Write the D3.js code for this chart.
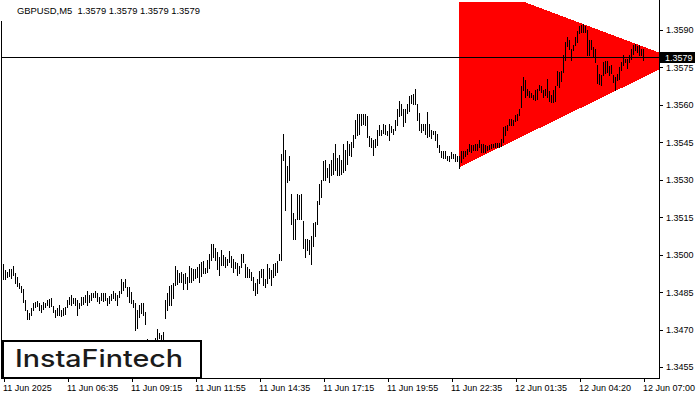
<!DOCTYPE html>
<html><head><meta charset="utf-8">
<script src="https://cdn.jsdelivr.net/npm/d3@7/dist/d3.min.js"></script>
<style>body{margin:0;background:#fff}svg{display:block}</style>
</head><body><svg id="c" width="700" height="400"></svg>
<script>
// ---- data ----
const symbolTitle = "GBPUSD,M5";
const headerPrices = [1.3579, 1.3579, 1.3579, 1.3579];
const lastPrice = 1.3579;
const highs = [
1.34962,1.34938,1.34931,1.34941,1.34941,1.34954,1.34925,1.34911,1.34885,1.34874,
1.34861,1.34818,1.34778,1.34765,1.34785,1.34805,1.34811,1.34814,1.34805,1.34798,
1.34811,1.34805,1.34818,1.34822,1.34825,1.34794,1.34778,1.34785,1.34798,1.34778,
1.34785,1.34791,1.34818,1.34829,1.34838,1.34825,1.34825,1.34818,1.34805,1.34831,
1.34831,1.34838,1.34855,1.34838,1.34845,1.34847,1.34855,1.34845,1.34831,1.34845,
1.34845,1.34845,1.34825,1.34834,1.34842,1.34855,1.34845,1.34838,1.34855,1.34901,
1.34891,1.34901,1.34871,1.34871,1.34851,1.34818,1.34805,1.34778,1.34798,1.34807,
1.34805,1.34771,1.34661,1.34645,1.34628,1.34628,1.34668,1.34701,1.34688,1.34677,
1.34691,1.34818,1.34846,1.34874,1.34878,1.34885,1.34954,1.34938,1.34925,1.34931,
1.34922,1.34925,1.34911,1.34954,1.34945,1.34941,1.34941,1.34951,1.34962,1.34971,
1.34975,1.34945,1.34978,1.35002,1.35042,1.35042,1.35025,1.35011,1.34989,1.35018,
1.34998,1.34991,1.34981,1.35015,1.34994,1.34981,1.34971,1.34965,1.34954,1.35002,
1.35002,1.34962,1.34951,1.34941,1.34931,1.34911,1.34885,1.34901,1.34935,1.34942,
1.34941,1.34901,1.34962,1.34945,1.34938,1.34962,1.34965,1.34975,1.35001,1.35405,
1.35482,1.35421,1.35355,1.35394,1.35245,1.35165,1.35141,1.35245,1.35241,1.35245,
1.35135,1.35064,1.35064,1.35059,1.35075,1.35128,1.35131,1.35215,1.35285,1.35298,
1.35375,1.35378,1.35349,1.35365,1.35381,1.35407,1.35445,1.35389,1.35398,1.35381,
1.35442,1.35418,1.35455,1.35442,1.35451,1.35478,1.35541,1.35562,1.35562,1.35562,
1.35562,1.35562,1.35554,1.35474,1.35469,1.35461,1.35465,1.35501,1.35518,1.35501,
1.35525,1.35518,1.35495,1.35522,1.35514,1.35505,1.35538,1.35585,1.35615,1.35602,
1.35585,1.35585,1.35605,1.35634,1.35638,1.35642,1.35665,1.35602,1.35567,1.35525,
1.35525,1.35522,1.35571,1.35525,1.35501,1.35495,1.35495,1.35482,1.35438,1.35415,
1.35415,1.35415,1.35394,1.35394,1.35411,1.35402,1.35402,1.35394,1.35394,1.35415,
1.35415,1.35415,1.35425,1.35442,1.35438,1.35438,1.35442,1.35445,1.35461,1.35442,
1.35442,1.35438,1.35434,1.35438,1.35442,1.35442,1.35447,1.35447,1.35447,1.35462,
1.35511,1.35515,1.35521,1.35542,1.35542,1.35538,1.35561,1.35565,1.35582,1.35675,
1.35711,1.35698,1.35662,1.35654,1.35649,1.35641,1.35658,1.35662,1.35681,1.35675,
1.35658,1.35662,1.35702,1.35654,1.35638,1.35658,1.35675,1.35734,1.35731,1.35734,
1.35801,1.35851,1.35871,1.35858,1.35825,1.35841,1.35871,1.35894,1.35918,1.35921,
1.35925,1.35915,1.35898,1.35858,1.35858,1.35831,1.35822,1.35761,1.35725,1.35718,
1.35771,1.35774,1.35774,1.35755,1.35761,1.35721,1.35711,1.35725,1.35751,1.35771,
1.35801,1.35785,1.35785,1.35801,1.35825,1.35841,1.35845,1.35835,1.35841,1.35825,
1.35825];
const lows = [
1.34901,1.34902,1.34909,1.34914,1.34907,1.34918,1.34887,1.34874,1.34865,1.34851,
1.34811,1.34778,1.34741,1.34741,1.34758,1.34778,1.34791,1.34794,1.34778,1.34771,
1.34781,1.34791,1.34798,1.34791,1.34794,1.34771,1.34751,1.34758,1.34758,1.34754,
1.34758,1.34762,1.34791,1.34802,1.34798,1.34805,1.34798,1.34758,1.34785,1.34798,
1.34802,1.34811,1.34798,1.34811,1.34818,1.34831,1.34831,1.34815,1.34805,1.34818,
1.34815,1.34818,1.34798,1.34805,1.34818,1.34825,1.34818,1.34798,1.34831,1.34845,
1.34858,1.34869,1.34834,1.34811,1.34805,1.34791,1.34698,1.34705,1.34749,1.34765,
1.34758,1.34722,1.34595,1.34583,1.34581,1.34585,1.34608,1.34659,1.34668,1.34648,
1.34659,1.34746,1.34778,1.34798,1.34798,1.34825,1.34878,1.34882,1.34891,1.34891,
1.34861,1.34885,1.34861,1.34891,1.34891,1.34898,1.34905,1.34911,1.34891,1.34914,
1.34927,1.34925,1.34931,1.34945,1.34978,1.34991,1.34978,1.34941,1.34918,1.34958,
1.34958,1.34951,1.34958,1.34971,1.34951,1.34931,1.34945,1.34918,1.34925,1.34951,
1.34971,1.34911,1.34911,1.34911,1.34898,1.34858,1.34838,1.34845,1.34885,1.34911,
1.34878,1.34871,1.34885,1.34905,1.34878,1.34911,1.34918,1.34931,1.34978,1.34978,
1.35381,1.35178,1.35291,1.35298,1.35121,1.35061,1.35061,1.35141,1.35141,1.35141,
1.35028,1.34992,1.35019,1.35001,1.34961,1.35035,1.35075,1.35121,1.35201,1.35231,
1.35298,1.35301,1.35311,1.35291,1.35318,1.35325,1.35341,1.35318,1.35318,1.35325,
1.35331,1.35338,1.35365,1.35398,1.35394,1.35431,1.35469,1.35478,1.35482,1.35518,
1.35522,1.35518,1.35471,1.35434,1.35431,1.35398,1.35431,1.35438,1.35478,1.35478,
1.35487,1.35485,1.35478,1.35461,1.35491,1.35485,1.35498,1.35518,1.35554,1.35558,
1.35514,1.35531,1.35567,1.35575,1.35607,1.35602,1.35602,1.35538,1.35501,1.35491,
1.35498,1.35482,1.35471,1.35474,1.35469,1.35482,1.35458,1.35431,1.35411,1.35391,
1.35389,1.35389,1.35378,1.35375,1.35389,1.35389,1.35374,1.35374,1.35349,1.35371,
1.35389,1.35394,1.35402,1.35415,1.35411,1.35418,1.35418,1.35421,1.35431,1.35411,
1.35411,1.35411,1.35418,1.35422,1.35426,1.35430,1.35430,1.35430,1.35430,1.35434,
1.35451,1.35478,1.35498,1.35518,1.35521,1.35518,1.35534,1.35538,1.35558,1.35591,
1.35658,1.35631,1.35638,1.35631,1.35631,1.35625,1.35618,1.35625,1.35658,1.35651,
1.35631,1.35638,1.35631,1.35614,1.35611,1.35611,1.35614,1.35678,1.35671,1.35694,
1.35731,1.35778,1.35835,1.35822,1.35778,1.35818,1.35838,1.35851,1.35889,1.35891,
1.35891,1.35891,1.35801,1.35801,1.35825,1.35791,1.35771,1.35689,1.35685,1.35678,
1.35718,1.35729,1.35731,1.35718,1.35729,1.35691,1.35658,1.35698,1.35705,1.35738,
1.35758,1.35771,1.35747,1.35771,1.35782,1.35805,1.35818,1.35811,1.35801,1.35801,
1.35778];
const timeTickBars = [0, 32, 64, 96, 128, 160, 192, 224, 256, 288, 320];
const timeLabels = ["11 Jun 2025","11 Jun 06:35","11 Jun 09:15","11 Jun 11:55","11 Jun 14:35",
  "11 Jun 17:15","11 Jun 19:55","11 Jun 22:35","12 Jun 01:35","12 Jun 04:20","12 Jun 07:00"];
const priceTicks = [1.3455,1.3470,1.3485,1.3500,1.3515,1.3530,1.3545,1.3560,1.3575,1.3590];
// triangle pattern vertices (bar index, price)
const triBars = [228, 228, 338];
const triPrices = [1.3611, 1.3535, 1.3578];
const logoText = "InstaFintech";

// ---- drawing ----
const svg = d3.select("#c");
const L = 2, R = 659, T = 2, B = 378;
const FONT = "'Liberation Sans', Arial, sans-serif";
const x = d3.scaleLinear().domain([0, 320]).range([3, 643]);
const y = d3.scaleLinear().domain([1.3455, 1.3590]).range([367, 30]);

svg.append("defs").append("clipPath").attr("id", "plot")
  .append("rect").attr("x", L).attr("y", T).attr("width", R - L).attr("height", B - T);

const plot = svg.append("g").attr("clip-path", "url(#plot)");

// triangle
const triPts = triBars.map((b, i) => [x(b), y(triPrices[i])]);
plot.append("path")
  .attr("d", d3.line()(triPts) + "Z")
  .attr("fill", "#ff0000")
  .attr("shape-rendering", "crispEdges");

// bars (high-low)
const idx = d3.range(highs.length);
plot.append("g").selectAll("rect").data(idx).join("rect")
  .attr("x", i => Math.round(x(i)))
  .attr("y", i => Math.round(y(highs[i])))
  .attr("width", 1)
  .attr("height", i => Math.max(1, Math.round(y(lows[i])) - Math.round(y(highs[i])) + 1))
  .attr("fill", "#000")
  .attr("shape-rendering", "crispEdges");

// current price line
const yp = Math.round(y(lastPrice)) + 0.5;
plot.append("line").attr("x1", L).attr("x2", R).attr("y1", yp).attr("y2", yp)
  .attr("stroke", "#000").attr("stroke-width", 1).attr("shape-rendering", "crispEdges");

// frame
const frame = svg.append("g").attr("stroke", "#000").attr("stroke-width", 1).attr("shape-rendering", "crispEdges");
frame.append("line").attr("x1", R + 0.5).attr("x2", R + 0.5).attr("y1", 0).attr("y2", B + 1);
frame.append("line").attr("x1", L).attr("x2", R + 1).attr("y1", B + 0.5).attr("y2", B + 0.5);
frame.append("line").attr("x1", 1.5).attr("x2", 1.5).attr("y1", 21).attr("y2", B + 1);

// y axis
const ya = svg.append("g").attr("transform", `translate(${R + 1},0)`)
  .call(d3.axisRight(y).tickValues(priceTicks).tickFormat(d3.format(".4f")).tickSize(3).tickPadding(3));
ya.select(".domain").remove();
ya.selectAll("line").attr("stroke", "#000").attr("shape-rendering", "crispEdges");
ya.selectAll("text").attr("font-family", FONT).attr("font-size", 9).attr("fill", "#000");

// x axis
const xa = svg.append("g").attr("transform", `translate(0.5,${B + 1})`)
  .call(d3.axisBottom(x).tickValues(timeTickBars).tickFormat((d, i) => timeLabels[i]).tickSize(3).tickPadding(3));
xa.select(".domain").remove();
xa.selectAll("line").attr("stroke", "#000").attr("shape-rendering", "crispEdges");
xa.selectAll("text").attr("font-family", FONT).attr("font-size", 9).attr("fill", "#000")
  .attr("text-anchor", "start").attr("x", -1);

// price label on axis
const lbl = svg.append("g");
lbl.append("rect").attr("x", R + 1).attr("y", Math.round(y(lastPrice)) - 5)
  .attr("width", 35).attr("height", 11).attr("fill", "#000");
lbl.append("text").attr("x", R + 6).attr("y", Math.round(y(lastPrice)) + 0.5)
  .attr("dominant-baseline", "central")
  .attr("font-family", FONT).attr("font-size", 9).attr("fill", "#fff")
  .text(d3.format(".4f")(lastPrice));

// header
svg.append("text").attr("x", 17).attr("y", 14)
  .attr("font-family", FONT).attr("font-size", 9.4).attr("fill", "#000")
  .attr("xml:space", "preserve")
  .text(symbolTitle + "  " + headerPrices.map(d3.format(".4f")).join(" "));

// logo box
const logo = svg.append("g");
logo.append("rect").attr("x", 3).attr("y", 341).attr("width", 198).attr("height", 37)
  .attr("fill", "#fff").attr("stroke", "#000").attr("stroke-width", 2);
logo.append("text").attr("x", 99).attr("y", 367).attr("text-anchor", "middle")
  .attr("font-family", "Inter, 'Open Sans', sans-serif").attr("font-weight", 500)
  .attr("font-size", 24).attr("fill", "#1b1b1b")
  .attr("textLength", 168).attr("lengthAdjust", "spacingAndGlyphs")
  .text(logoText);
</script>
</body></html>
